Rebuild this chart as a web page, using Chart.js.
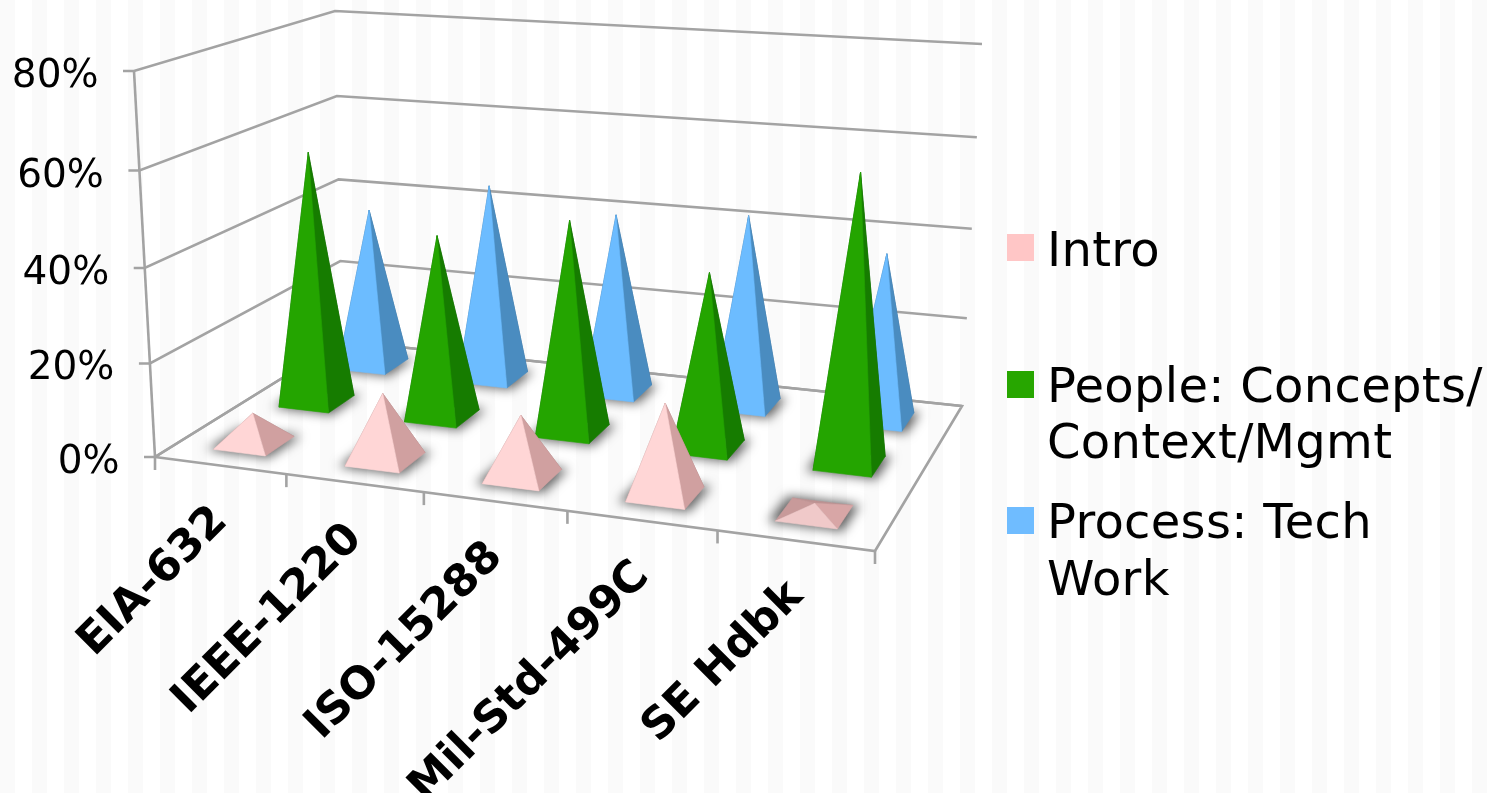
<!DOCTYPE html>
<html>
<head>
<meta charset="utf-8">
<script src="https://cdn.jsdelivr.net/npm/chart.js@4"></script>
<style>
html,body{margin:0;padding:0;overflow:hidden;width:1494px;height:793px;
background:repeating-linear-gradient(90deg,#fafafa 0,#fafafa 15px,#ffffff 15px,#ffffff 32px);}
#wrap{position:absolute;left:0;top:0;width:1494px;height:793px;}
</style>
</head>
<body>
<div id="wrap"><canvas id="c" width="1494" height="793"></canvas></div>
<script>
// ---- data ----
const categories = ["EIA-632","IEEE-1220","ISO-15288","Mil-Std-499C","SE Hdbk"];
const intro   = [6.5,14.1,12.9,18.8,2];
const people  = [56.1,40.2,46,37.5,60.8];
const process = [36.9,44.8,40.5,42.7,36.8];
const yTicks  = [0,20,40,60,80];
const seriesNames = ["Intro","People: Concepts/Context/Mgmt","Process: Tech Work"];
const legendLines = [["Intro"],["People: Concepts/","Context/Mgmt"],["Process: Tech","Work"]];

// ---- style ----
const swatchColors = ["#ffc6c6","#27a600","#6fbcff"];
const frontColors  = [[255,214,214],[36,165,0],[108,188,255]];
const rightColors  = [[208,160,160],[22,124,0],[74,140,192]];
const lineColor = "#a3a3a3";

// ---- projection of the plot box ----
function quadMap(p0,p1,p2,p3){
  const dx1=p1[0]-p2[0],dx2=p3[0]-p2[0],sx=p0[0]-p1[0]+p2[0]-p3[0];
  const dy1=p1[1]-p2[1],dy2=p3[1]-p2[1],sy=p0[1]-p1[1]+p2[1]-p3[1];
  const det=dx1*dy2-dx2*dy1;
  const g=(sx*dy2-dx2*sy)/det,h=(dx1*sy-sx*dy1)/det;
  const a=p1[0]-p0[0]+g*p1[0],b=p3[0]-p0[0]+h*p3[0],c=p0[0];
  const d=p1[1]-p0[1]+g*p1[1],e=p3[1]-p0[1]+h*p3[1],f=p0[1];
  return (u,v)=>{const k=g*u+h*v+1;return [(a*u+b*v+c)/k,(d*u+e*v+f)/k];};
}
const floorAt = quadMap([155,457],[875,551],[962,406],[342,341]);
const topAt   = quadMap([134,71],[899,128],[982,44],[335,11]);
function bow(u,k){return u+k*Math.sin(Math.PI*u);}
function project(u,v,w){
  const ww=w/(1.042-0.042*w);
  const F=floorAt(bow(u,0.004),v),T=topAt(bow(u,0.012),v);
  return [F[0]+(T[0]-F[0])*ww,F[1]+(T[1]-F[1])*ww];
}
function uOf(chart,i){const s=chart.scales.x;return (s.getPixelForValue(i)-s.left)/(s.right-s.left);}
function wOf(chart,val){const s=chart.scales.y;return (s.bottom-s.getPixelForValue(val))/(s.bottom-s.top);}
function poly(ctx,pts){ctx.beginPath();pts.forEach((p,i)=>i?ctx.lineTo(p[0],p[1]):ctx.moveTo(p[0],p[1]));ctx.closePath();}
function rgb(c,f){return "rgb("+c.map(x=>Math.min(255,Math.round(x*f))).join(",")+")";}
function seg(ctx,a,b){ctx.beginPath();ctx.moveTo(a[0],a[1]);ctx.lineTo(b[0],b[1]);ctx.stroke();}

// ---- a bar controller whose bars are drawn as projected pyramids ----
class PyramidController extends Chart.BarController{
  draw(){
    const chart=this.chart,ctx=chart.ctx,row=this.index;
    const n=chart.data.labels.length,rows=chart.data.datasets.length;
    const du=0.2/n,dv=0.22/rows,v=(row+0.5)/rows;
    for(let i=n-1;i>=0;i--){
      const u=uOf(chart,i),val=this.getParsed(i).y,w=wOf(chart,val);
      const FL=project(u-du,v-dv,0),FR=project(u+du,v-dv,0),BR=project(u+du,v+dv,0),BL=project(u-du,v+dv,0);
      const A=project(u,v,w);
      // soft floor shadow only: the casting shape is moved off the canvas
      const su=du*1.2,sv=dv*1.12,off=3000;
      const ring=[project(u-su,v-sv,0),project(u+su,v-sv,0),project(u+su,v+sv,0),project(u-su,v+sv,0)];
      ctx.save();
      ctx.shadowColor="rgba(0,0,0,0.62)";ctx.shadowBlur=11;ctx.shadowOffsetX=off;
      ctx.fillStyle="#000";poly(ctx,ring.map(p=>[p[0]-off,p[1]]));ctx.fill();
      ctx.restore();
      const flat=val<3;
      const fc=frontColors[row],rc=rightColors[row];
      const faces=[[BL,BR,rgb(rc,flat?0.91:0.8)],[FL,BL,rgb(rc,flat?0.96:0.85)],[FR,BR,rgb(rc,flat?1.04:1)],[FL,FR,rgb(fc,flat?0.94:1)]];
      faces.forEach(f=>{poly(ctx,[f[0],f[1],A]);ctx.fillStyle=f[2];ctx.strokeStyle=f[2];ctx.lineWidth=0.6;ctx.fill();ctx.stroke();});
    }
  }
}
PyramidController.id="pyramid";
PyramidController.defaults=Chart.BarController.defaults;
PyramidController.overrides=Chart.BarController.overrides;
Chart.register(PyramidController);

// ---- walls, axes, legend ----
const boxPlugin={
  id:"box",
  beforeDatasetsDraw(chart){
    const ctx=chart.ctx,ys=chart.scales.y,xs=chart.scales.x,n=xs.ticks.length;
    ctx.save();
    ctx.strokeStyle=lineColor;ctx.lineWidth=2.6;ctx.lineCap="butt";ctx.lineJoin="miter";
    ys.ticks.forEach(t=>{
      const w=wOf(chart,t.value);
      const a=project(0,0,w),b=project(0,1,w),c=project(1,1,w);
      ctx.beginPath();ctx.moveTo(a[0]-11,a[1]);ctx.lineTo(a[0],a[1]);ctx.lineTo(b[0],b[1]);ctx.lineTo(c[0],c[1]);ctx.stroke();
      ctx.fillStyle="#000";ctx.font="39px 'DejaVu Sans'";ctx.textAlign="right";ctx.textBaseline="alphabetic";
      ctx.fillText(t.label,a[0]-35.5,a[1]+16);
    });
    seg(ctx,project(0,0,0),project(0,0,1));
    poly(ctx,[project(0,0,0),project(1,0,0),project(1,1,0),project(0,1,0)]);ctx.stroke();
    for(let k=0;k<=n;k++){
      const p=project(k/n,0,0);
      seg(ctx,p,[p[0],p[1]+13]);
    }
    ctx.fillStyle="#000";ctx.font="bold 44px 'DejaVu Sans'";ctx.textAlign="right";ctx.textBaseline="middle";
    xs.ticks.forEach((t,i)=>{
      const p=project(uOf(chart,i),0,0);
      ctx.save();ctx.translate(p[0]+1,p[1]+49);ctx.rotate(-Math.PI/4);
      ctx.fillText(categories[i],0,0);ctx.restore();
    });
    ctx.restore();
  },
  afterDraw(chart){
    const ctx=chart.ctx;
    const swatchY=[234,371,507],baseY=[[266],[402,458],[538,595]];
    ctx.save();
    ctx.font="48px 'DejaVu Sans'";ctx.textAlign="left";ctx.textBaseline="alphabetic";
    ctx.letterSpacing="0.3px";
    chart.data.datasets.forEach((ds,i)=>{
      ctx.fillStyle=ds.backgroundColor;ctx.fillRect(1007,swatchY[i],27,27);
      ctx.fillStyle="#000";
      legendLines[i].forEach((line,j)=>ctx.fillText(line,1047,baseY[i][j]));
    });
    ctx.restore();
  }
};

new Chart(document.getElementById("c"),{
  type:"pyramid",
  data:{labels:categories,datasets:[
    {label:seriesNames[0],data:intro,backgroundColor:swatchColors[0]},
    {label:seriesNames[1],data:people,backgroundColor:swatchColors[1]},
    {label:seriesNames[2],data:process,backgroundColor:swatchColors[2]}
  ]},
  options:{
    responsive:false,animation:false,devicePixelRatio:1,
    layout:{padding:0},
    plugins:{legend:{display:false},title:{display:false},tooltip:{enabled:false}},
    scales:{
      x:{type:"category",display:false,offset:true},
      y:{type:"linear",display:false,min:0,max:80,
         afterBuildTicks(s){s.ticks=yTicks.map(v=>({value:v}));},
         afterTickToLabelConversion(s){s.ticks.forEach(t=>t.label=t.value+"%");}}
    }
  },
  plugins:[boxPlugin]
});
</script>
</body>
</html>
